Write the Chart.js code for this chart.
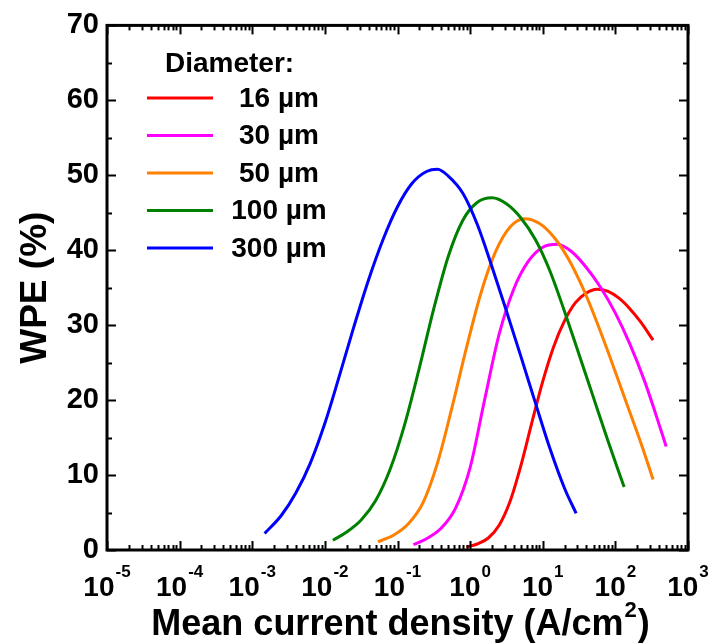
<!DOCTYPE html>
<html>
<head>
<meta charset="utf-8">
<title>WPE vs current density</title>
<script src="https://cdn.jsdelivr.net/npm/chart.js@4.4.1/dist/chart.umd.min.js"></script>
<style>
  body { margin: 0; background: #fff; }
  canvas { display: block; }
</style>
</head>
<body>
<canvas id="wpe-chart" width="712" height="644"></canvas>
<script>
// diameters shown in the legend
const diameters = ['16 \u00b5m', '30 \u00b5m', '50 \u00b5m', '100 \u00b5m', '300 \u00b5m'];
const colors = ['#ff0000', '#ff00ff', '#ff8000', '#008000', '#0000ff'];

// mean current density (A/cm2) and WPE (%) for each diameter
const j16 = [0.891, 1.26, 1.78, 2.51, 3.55, 5.01, 7.08, 10, 14.1, 20.0, 28.2, 39.8, 56.2, 79.4, 112, 158, 224, 331];
const wpe16 = [0.4, 0.8, 1.6, 3.3, 6.5, 11.3, 17.0, 22.5, 27.1, 30.6, 33.0, 34.3, 34.8, 34.5, 33.6, 32.2, 30.4, 28.0];

const j30 = [0.166, 0.251, 0.398, 0.631, 1.0, 1.58, 2.51, 3.98, 6.31, 10, 15.8, 25.1, 39.8, 63.1, 100, 158, 251, 355, 501];
const wpe30 = [0.7, 1.5, 2.9, 5.6, 11.0, 20.0, 28.8, 34.8, 38.5, 40.4, 40.8, 39.8, 37.7, 35.0, 31.6, 27.5, 22.6, 18.3, 13.8];

const j50 = [0.0537, 0.0891, 0.141, 0.224, 0.355, 0.562, 0.891, 1.41, 2.24, 3.55, 5.62, 8.91, 14.1, 22.4, 35.5, 56.2, 89.1, 141, 224, 331];
const wpe50 = [1.1, 2.0, 3.5, 6.3, 11.6, 19.0, 27.0, 34.3, 39.8, 43.1, 44.2, 43.6, 41.8, 38.9, 35.0, 30.3, 25.1, 19.7, 14.3, 9.4];

const j100 = [0.0129, 0.02, 0.0316, 0.0501, 0.0794, 0.126, 0.2, 0.316, 0.501, 0.794, 1.26, 2.0, 3.16, 5.01, 7.94, 12.6, 20.0, 31.6, 50.1, 79.4, 132];
const wpe100 = [1.3, 2.4, 4.0, 6.6, 10.8, 16.8, 24.3, 32.2, 39.2, 44.0, 46.4, 47.0, 46.2, 44.3, 41.4, 37.2, 31.8, 26.1, 20.3, 14.5, 8.4];

const j300 = [0.00148, 0.00251, 0.00398, 0.00631, 0.01, 0.0158, 0.0251, 0.0398, 0.0631, 0.1, 0.158, 0.251, 0.355, 0.501, 0.794, 1.26, 2.0, 3.16, 5.01, 7.94, 12.6, 20.0, 28.8];
const wpe300 = [2.2, 4.6, 7.6, 11.6, 16.9, 23.2, 29.8, 36.0, 41.4, 45.8, 48.9, 50.5, 50.8, 49.9, 47.6, 43.4, 37.8, 31.9, 25.8, 19.6, 13.5, 8.2, 4.9];

const xSeries = [j16, j30, j50, j100, j300];
const ySeries = [wpe16, wpe30, wpe50, wpe100, wpe300];

const xExponents = [-5, -4, -3, -2, -1, 0, 1, 2, 3];
const FONT = '"Liberation Sans", Arial, sans-serif';

function toPoints(xs, ys) {
    return xs.map((v, i) => ({ x: v, y: ys[i] }));
}

const datasets = diameters.map((label, i) => ({
    label: label,
    data: toPoints(xSeries[i], ySeries[i]),
    borderColor: colors[i],
    backgroundColor: colors[i],
    borderWidth: 3,
    pointRadius: 0,
    showLine: true,
    fill: false,
    cubicInterpolationMode: 'monotone',
    order: diameters.length - i // last diameter on top
}));

function line(ctx, x1, y1, x2, y2) {
    ctx.beginPath();
    ctx.moveTo(x1, y1);
    ctx.lineTo(x2, y2);
    ctx.stroke();
}

// box, inward ticks, x labels with exponents, titles and legend
const framePlugin = {
    id: 'frame',
    afterDraw(chart) {
        const ctx = chart.ctx;
        const a = chart.chartArea;
        const x = chart.scales.x;
        const y = chart.scales.y;
        ctx.save();
        ctx.strokeStyle = '#000';
        ctx.lineWidth = 2;

        for (let e = xExponents[0]; e <= xExponents[xExponents.length - 1]; e++) {
            for (let m = 1; m < 10; m++) {
                const v = m * Math.pow(10, e);
                if (v > x.max * 1.0001) break;
                const px = Math.round(x.getPixelForValue(v)) + 0.5;
                const len = m === 1 ? 9 : 5;
                line(ctx, px, a.bottom, px, a.bottom - len);
                line(ctx, px, a.top, px, a.top + len);
            }
        }
        for (let v = 0; v <= 70; v += 5) {
            const py = Math.round(y.getPixelForValue(v)) + 0.5;
            const len = v % 10 === 0 ? 9 : 5;
            line(ctx, a.left, py, a.left + len, py);
            line(ctx, a.right, py, a.right - len, py);
        }
        ctx.lineWidth = 3;
        ctx.strokeRect(a.left, a.top, a.right - a.left, a.bottom - a.top);

        // x tick labels: 10 with a raised exponent
        ctx.fillStyle = '#000';
        ctx.textBaseline = 'alphabetic';
        ctx.textAlign = 'left';
        xExponents.forEach(e => {
            const px = x.getPixelForValue(Math.pow(10, e));
            const exp = String(e);
            ctx.font = 'bold 28px ' + FONT;
            const wb = ctx.measureText('10').width;
            ctx.font = 'bold 17px ' + FONT;
            const we = ctx.measureText(exp).width;
            const start = px - (wb + we + 1) / 2;
            ctx.font = 'bold 28px ' + FONT;
            ctx.fillText('10', start, 596);
            ctx.font = 'bold 17px ' + FONT;
            ctx.fillText(exp, start + wb + 1, 577);
        });

        // x title, with the squared unit raised
        const big = 'bold 36px ' + FONT;
        const small = 'bold 22px ' + FONT;
        const t1 = 'Mean current density (A/cm';
        ctx.font = big;
        const w1 = ctx.measureText(t1).width;
        const w3 = ctx.measureText(')').width;
        ctx.font = small;
        const w2 = ctx.measureText('2').width;
        let tx = (a.left + a.right) / 2 + 3 - (w1 + w2 + w3 + 2) / 2;
        ctx.font = big;
        ctx.fillText(t1, tx, 635);
        ctx.font = small;
        ctx.fillText('2', tx + w1 + 1, 617);
        ctx.font = big;
        ctx.fillText(')', tx + w1 + w2 + 2, 635);

        // y title
        ctx.save();
        ctx.translate(46, (a.top + a.bottom) / 2);
        ctx.rotate(-Math.PI / 2);
        ctx.textAlign = 'center';
        ctx.font = 'bold 37px ' + FONT;
        ctx.fillText('WPE (%)', 0, 0);
        ctx.restore();

        // legend
        ctx.textAlign = 'left';
        ctx.font = 'bold 28px ' + FONT;
        ctx.fillText('Diameter:', 165, 72);
        ctx.textAlign = 'center';
        ctx.textBaseline = 'middle';
        chart.data.datasets.forEach((ds, i) => {
            const ly = 98 + i * 37.5;
            ctx.strokeStyle = ds.borderColor;
            ctx.lineWidth = 3;
            line(ctx, 147, ly, 213, ly);
            ctx.fillStyle = '#000';
            ctx.fillText(ds.label, 279, ly + 1);
        });
        ctx.restore();
    }
};

const canvas = document.getElementById('wpe-chart');
const chart = new Chart(canvas.getContext('2d'), {
    type: 'scatter',
    data: { datasets: datasets },
    options: {
        responsive: false,
        animation: false,
        layout: { padding: { top: 18, right: 24, left: 0, bottom: 0 } },
        plugins: {
            legend: { display: false },
            tooltip: { enabled: false }
        },
        scales: {
            x: {
                type: 'logarithmic',
                min: 1e-5,
                max: 1e3,
                grid: { display: false },
                border: { display: false },
                ticks: { display: false },
                afterFit(scale) { scale.height = 94; }
            },
            y: {
                min: 0,
                max: 70,
                grid: { display: false, drawTicks: false },
                border: { display: false },
                ticks: {
                    stepSize: 10,
                    padding: 8,
                    color: '#000',
                    font: { family: FONT, size: 29, weight: 'bold' }
                },
                afterFit(scale) { scale.width = 107; }
            }
        }
    },
    plugins: [framePlugin]
});
</script>
</body>
</html>
